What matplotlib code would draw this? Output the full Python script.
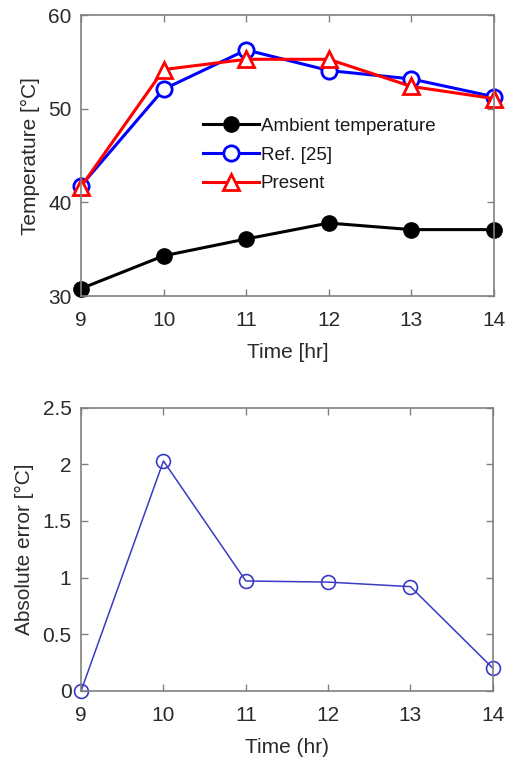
import matplotlib
matplotlib.use("Agg")
import matplotlib.pyplot as plt

plt.rcParams['font.family'] = ['Liberation Sans', 'DejaVu Sans']
plt.rcParams['text.color'] = '#2a2a2a'
plt.rcParams['axes.labelcolor'] = '#2a2a2a'
plt.rcParams['xtick.labelcolor'] = '#2a2a2a'
plt.rcParams['ytick.labelcolor'] = '#2a2a2a'

hours = [9, 10, 11, 12, 13, 14]
ambient = [30.8, 34.3, 36.1, 37.8, 37.1, 37.1]
ref25 = [41.8, 52.1, 56.3, 54.1, 53.2, 51.3]
present = [41.7, 54.2, 55.3, 55.3, 52.4, 51.1]
abs_error = [0.0, 2.03, 0.97, 0.96, 0.92, 0.20]

fig = plt.figure(figsize=(5.07, 7.65), dpi=100)
ax1 = fig.add_axes([0.160, 0.613, 0.814, 0.367])
ax2 = fig.add_axes([0.160, 0.097, 0.812, 0.370])

ax1.plot(hours, ambient, '-o', c='k', lw=2.2, ms=11, label='Ambient temperature')
ax1.plot(hours, ref25, '-o', c='#0000ff', lw=2.2, ms=11, mfc='white', mew=2, label='Ref. [25]')
ax1.plot(hours, present, '-^', c='#ff0000', lw=2.2, ms=11, mfc='white', mew=2, label='Present')
ax1.set_xlim(9, 14)
ax1.set_ylim(30, 60)
ax1.set_yticks([30, 40, 50, 60])
ax1.set_xlabel('Time [hr]', fontsize=15, labelpad=9)
ax1.set_ylabel('Temperature [°C]', fontsize=15, labelpad=6)
leg = ax1.legend(loc='upper left', bbox_to_anchor=(0.295, 0.635), frameon=False,
                 fontsize=13.5, handlelength=3.0, handletextpad=0.1, labelspacing=0.62,
                 borderaxespad=0, borderpad=0)
for t in leg.get_texts():
    t.set_color('#1a1a1a')

ax2.plot(hours, abs_error, '-o', c='#3a3ac4', lw=1.1, ms=10, mfc='none', mew=1.2)
ax2.set_xlim(9, 14)
ax2.set_ylim(0, 2.5)
ax2.set_yticks([0, 0.5, 1, 1.5, 2, 2.5])
ax2.set_yticklabels(['0', '0.5', '1', '1.5', '2', '2.5'])
ax2.set_xlabel('Time (hr)', fontsize=15, labelpad=9)
ax2.set_ylabel('Absolute error [°C]', fontsize=15, labelpad=6)

for ax in (ax1, ax2):
    ax.tick_params(direction='in', top=True, right=True, labelsize=15, length=5,
                   width=1, color='#808080', pad=7)
    ax.tick_params(axis='x', pad=11)
    for s in ax.spines.values():
        s.set_linewidth(1.2)
        s.set_color('#808080')
    for m in ax.get_lines():
        m.set_clip_on(False)

fig.savefig('out.png', dpi=100)
